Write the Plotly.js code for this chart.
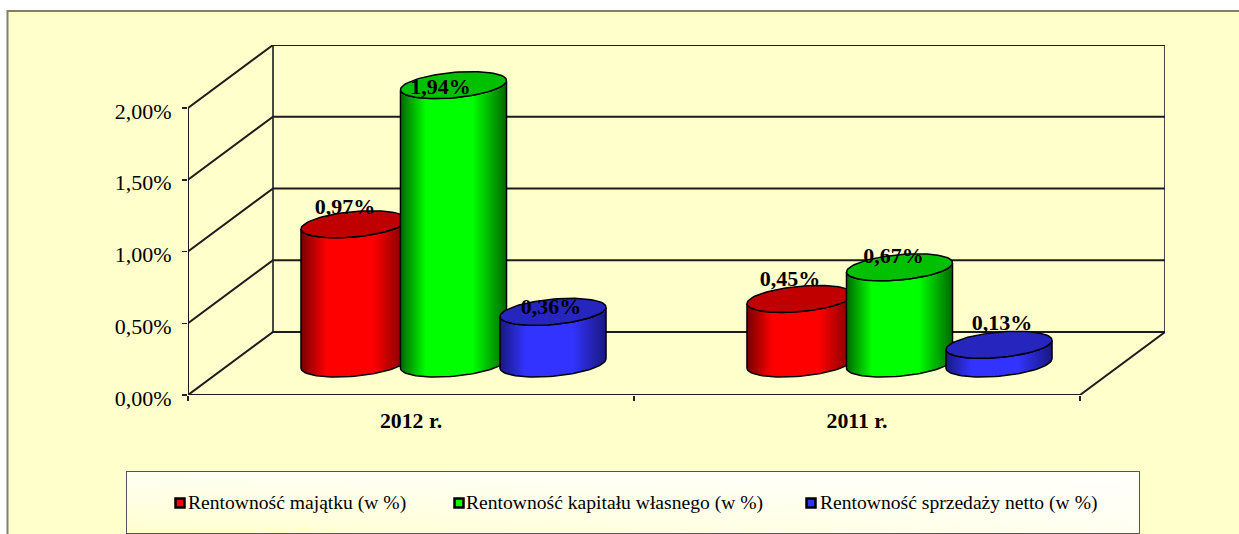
<!DOCTYPE html>
<html><head><meta charset="utf-8">
<script src="https://cdn.plot.ly/plotly-3.0.1.min.js"></script>
<style>html,body{margin:0;padding:0;background:#fff}#c{width:1239px;height:534px}</style></head>
<body><div id="c"></div>
<script>
// ---- data ----
const categories = ['2012 r.', '2011 r.'];
const seriesNames = ['Rentowność majątku (w %)', 'Rentowność kapitału własnego (w %)', 'Rentowność sprzedaży netto (w %)'];
const rentownoscMajatku = [0.97, 0.45];
const rentownoscKapitalu = [1.94, 0.67];
const rentownoscSprzedazy = [0.36, 0.13];
const valueTicks = [0, 0.5, 1, 1.5, 2];
// ---- style ----
const seriesValues = [rentownoscMajatku, rentownoscKapitalu, rentownoscSprzedazy];
const bright = ['#ff0000', '#00ff00', '#3333ff'];
const dark = ['#760000', '#006800', '#181880'];
const topFill = ['#c00000', '#00c000', '#2626bf'];
const labelNudgeX = [[-9, -13, -2], [-10, -6, 3]];
const labelNudgeY = [[-16, 3, -3], [-18.5, -9.5, -20]];
const W = 1239, H = 534;
const PLOT = {l: 188, r: 1165, t: 45, b: 395};
const unitX = 446, unitY = 143.5, depthX = 85, depthY = 63;
const rA = 49.8, rB = 18.2, rV = 13.5, spacing = 99.5;
const serif = 'Liberation Serif, Times New Roman, serif';
const t0 = Math.atan2(rB, rA);
const pct = v => v.toFixed(2).replace('.', ',') + '%';

function px(cat, dxPx){ return cat + dxPx / unitX; }
function py(v, dyPx){ return v + dyPx / unitY; }
function centerX(cat, s){ return px(cat, depthX / 2 + (s - 1) * spacing); }
function ell(cx, v, t){
  return [cx + (rA * Math.cos(t) + rB * Math.sin(t)) / unitX,
          v + (depthY / 2 + rV * Math.sin(t)) / unitY];
}
function arc(cx, v, a, b, n){
  const o = [];
  for (let i = 0; i <= n; i++) o.push(ell(cx, v, a + (b - a) * i / n));
  return o;
}
const traces = [];
// walls
const wx = [], wy = [], vx = [], vy = [];
const xL = -0.5, xFR = 1.5, dX = depthX / unitX, dY = depthY / unitY, topVal = valueTicks[valueTicks.length - 1];
function seg(ax, ay, pts){ pts.forEach(p => { ax.push(p[0]); ay.push(p[1]); }); ax.push(null); ay.push(null); }
valueTicks.forEach(v => seg(wx, wy, [[xL, v], [xL + dX, v + dY], [xFR + dX, v + dY]]));
seg(wx, wy, [[xL, 0], [xFR, 0], [xFR + dX, dY]]);
seg(wx, wy, [[xL, 0], [xL, topVal]]);
seg(vx, vy, [[xL + dX, dY], [xL + dX, topVal + dY]]);
seg(vx, vy, [[xFR + dX, dY], [xFR + dX, topVal + dY]]);
traces.push({x: vx, y: vy, mode: 'lines', line: {color: '#4a4a44', width: 2}, cliponaxis: false, hoverinfo: 'skip', showlegend: false});
traces.push({x: wx, y: wy, mode: 'lines', line: {color: '#1c1c1c', width: 2}, cliponaxis: false, hoverinfo: 'skip', showlegend: false});
// cylinders
seriesValues.forEach((vals, s) => {
  vals.forEach((v, c) => {
    const cx = centerX(c, s);
    const front = arc(cx, v, t0 - Math.PI, t0, 48).concat(arc(cx, 0, t0, t0 - Math.PI, 48));
    front.push(front[0]);
    traces.push({x: front.map(p => p[0]), y: front.map(p => p[1]), mode: 'lines', fill: 'toself', name: seriesNames[s],
      line: {color: '#000', width: 1.5},
      fillgradient: {type: 'horizontal', colorscale: [[0, dark[s]], [0.24, bright[s]], [0.68, bright[s]], [1, dark[s]]]},
      cliponaxis: false, hoverinfo: 'skip', showlegend: false});
    const cap = arc(cx, v, 0, 2 * Math.PI, 96);
    traces.push({x: cap.map(p => p[0]), y: cap.map(p => p[1]), mode: 'lines', fill: 'toself', fillcolor: topFill[s],
      line: {color: '#000', width: 1.5}, cliponaxis: false, hoverinfo: 'skip', showlegend: false});
  });
});
// data labels
const lx = [], ly = [], lt = [];
seriesValues.forEach((vals, s) => vals.forEach((v, c) => {
  lx.push(centerX(c, s) + labelNudgeX[c][s] / unitX);
  ly.push(py(v, depthY / 2 - labelNudgeY[c][s]));
  lt.push(pct(v));
}));
traces.push({x: lx, y: ly, text: lt, mode: 'text', textposition: 'middle center', cliponaxis: false,
  textfont: {family: serif, size: 22, color: '#000', weight: 'bold'}, hoverinfo: 'skip', showlegend: false});
// legend box
const LB = {l: 127, r: 1139, t: 472, b: 533};
const boxX = [LB.l, LB.r, LB.r, LB.l, LB.l], boxY = [LB.t, LB.t, LB.b, LB.b, LB.t];
traces.push({x: boxX, y: boxY, xaxis: 'x2', yaxis: 'y2', mode: 'none', fill: 'toself',
  fillgradient: {type: 'horizontal', colorscale: [[0, '#ffffcf'], [1, '#fffff0']]}, hoverinfo: 'skip', showlegend: false});
traces.push({x: boxX, y: boxY, xaxis: 'x2', yaxis: 'y2', mode: 'none', fill: 'toself',
  fillgradient: {type: 'vertical', colorscale: [[0, 'rgba(255,255,255,0)'], [1, 'rgba(255,255,255,0.75)']]}, hoverinfo: 'skip', showlegend: false});
const swatchX = [180, 459, 811], textX = [188, 466, 820];
seriesNames.forEach((n, s) => {
  traces.push({x: [swatchX[s]], y: [503], xaxis: 'x2', yaxis: 'y2', mode: 'markers', name: n,
    marker: {symbol: 'square', size: 9, color: bright[s], line: {color: '#000', width: 2.5}}, hoverinfo: 'skip', showlegend: false});
  traces.push({x: [textX[s]], y: [504], text: [n], xaxis: 'x2', yaxis: 'y2', mode: 'text', textposition: 'middle right',
    textfont: {family: serif, size: 19.6, color: '#000'}, cliponaxis: false, hoverinfo: 'skip', showlegend: false});
});
const paperX = v => v / W, paperY = v => 1 - v / H;
const layout = {
  width: W, height: H, margin: {l: 0, r: 0, t: 0, b: 0}, autosize: false, showlegend: false,
  paper_bgcolor: '#ffffff', plot_bgcolor: 'rgba(0,0,0,0)',
  xaxis: {domain: [paperX(PLOT.l), paperX(PLOT.r)], range: [xL, xFR + dX], tickvals: [0, 1], ticktext: categories,
    ticks: '', ticklen: 0, showgrid: false, zeroline: false, showline: false, fixedrange: true,
    minor: {tickmode: 'array', tickvals: [-0.5, 0.5, 1.5], ticks: 'outside', ticklen: 5, tickwidth: 1.5, tickcolor: '#222', showgrid: false},
    tickfont: {family: serif, size: 21.8, color: '#000', weight: 'bold'}, ticklabelstandoff: 10},
  yaxis: {domain: [paperY(PLOT.b), paperY(PLOT.t)], range: [0, (PLOT.b - PLOT.t) / unitY], tickmode: 'array', tickvals: valueTicks, ticktext: valueTicks.map(pct),
    ticks: 'outside', ticklen: 5, tickwidth: 1.5, tickcolor: '#222',
    showgrid: false, zeroline: false, showline: false, fixedrange: true, ticklabelstandoff: 6, ticklabelshift: 3,
    tickfont: {family: serif, size: 22, color: '#000'}},
  xaxis2: {domain: [paperX(LB.l), paperX(LB.r)], range: [LB.l, LB.r], anchor: 'y2', visible: true, showticklabels: false, ticks: '',
    showgrid: false, zeroline: false, showline: true, mirror: true, linecolor: '#555', linewidth: 1, fixedrange: true},
  yaxis2: {domain: [paperY(LB.b), paperY(LB.t)], range: [LB.b, LB.t], anchor: 'x2', visible: true, showticklabels: false, ticks: '',
    showgrid: false, zeroline: false, showline: true, mirror: true, linecolor: '#555', linewidth: 1, fixedrange: true},
  shapes: [{type: 'rect', xref: 'paper', yref: 'paper', layer: 'below', x0: paperX(7.5), x1: paperX(W + 5), y0: paperY(11), y1: paperY(H + 5),
    fillcolor: '#ffffcc', line: {color: '#808070', width: 2}}]
};
Plotly.newPlot('c', traces, layout, {displayModeBar: false, staticPlot: true});
</script></body></html>
